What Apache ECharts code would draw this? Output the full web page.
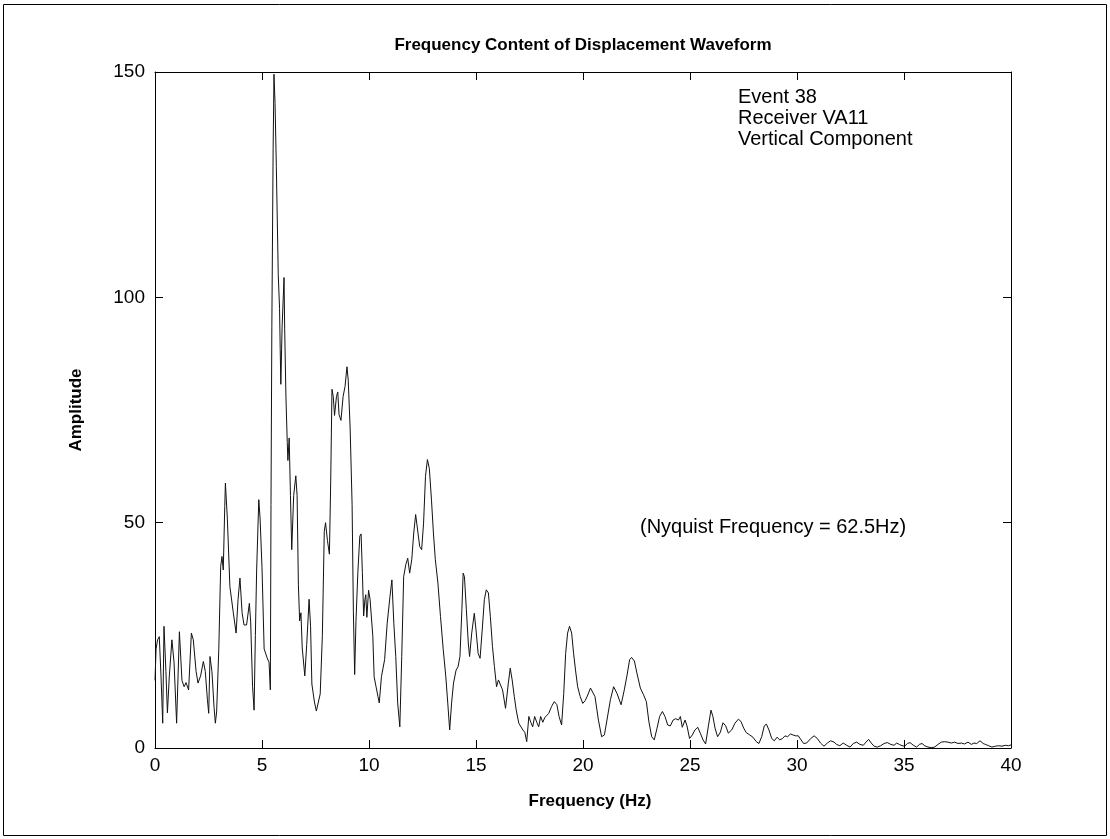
<!DOCTYPE html>
<html><head><meta charset="utf-8">
<script src="https://cdn.jsdelivr.net/npm/echarts@6/dist/echarts.min.js"></script>
<style>html,body{margin:0;padding:0;background:#fff}#c{width:1110px;height:839px}</style>
</head><body><div id="c"></div>
<script>
const freqHz = [0.00,0.05,0.12,0.20,0.28,0.36,0.42,0.51,0.58,0.67,0.79,0.89,1.01,1.14,1.26,1.36,1.45,1.57,1.70,1.79,1.92,2.01,2.13,2.26,2.35,2.45,2.51,2.57,2.66,2.76,2.82,2.88,2.98,3.07,3.13,3.19,3.26,3.29,3.38,3.50,3.66,3.79,3.88,3.97,4.07,4.16,4.28,4.41,4.47,4.56,4.63,4.69,4.75,4.85,4.91,5.00,5.10,5.24,5.33,5.39,5.42,5.46,5.52,5.56,5.61,5.67,5.76,5.82,5.85,5.88,5.94,6.03,6.06,6.12,6.18,6.21,6.27,6.33,6.39,6.48,6.58,6.64,6.70,6.76,6.82,6.88,7.00,7.09,7.20,7.27,7.33,7.45,7.54,7.63,7.72,7.82,7.91,7.97,8.06,8.15,8.21,8.27,8.33,8.39,8.48,8.54,8.60,8.69,8.79,8.88,8.97,9.03,9.12,9.21,9.27,9.33,9.39,9.48,9.57,9.63,9.69,9.75,9.81,9.85,9.90,9.98,10.05,10.18,10.24,10.33,10.42,10.48,10.58,10.73,10.85,10.98,11.07,11.16,11.25,11.34,11.44,11.53,11.62,11.72,11.81,11.90,12.00,12.09,12.18,12.27,12.37,12.46,12.55,12.64,12.73,12.82,12.92,13.01,13.10,13.22,13.34,13.47,13.59,13.68,13.77,13.86,13.95,14.07,14.16,14.25,14.34,14.40,14.46,14.55,14.64,14.70,14.80,14.92,15.00,15.10,15.19,15.29,15.39,15.48,15.58,15.67,15.77,15.86,15.96,16.05,16.14,16.24,16.38,16.51,16.60,16.69,16.79,16.88,17.00,17.09,17.19,17.28,17.37,17.47,17.56,17.65,17.74,17.84,17.93,18.02,18.12,18.21,18.30,18.40,18.53,18.66,18.78,18.88,19.00,19.10,19.19,19.28,19.37,19.47,19.56,19.65,19.75,19.87,19.99,20.10,20.20,20.35,20.44,20.56,20.72,20.87,21.00,21.12,21.28,21.43,21.59,21.78,21.93,22.06,22.18,22.27,22.40,22.52,22.68,22.83,22.96,23.08,23.21,23.33,23.46,23.58,23.71,23.83,23.96,24.08,24.21,24.33,24.46,24.55,24.64,24.77,24.86,24.98,25.11,25.23,25.36,25.48,25.61,25.73,25.86,25.98,26.07,26.17,26.29,26.42,26.54,26.67,26.79,26.95,27.10,27.26,27.38,27.51,27.63,27.79,27.94,28.10,28.22,28.35,28.47,28.57,28.69,28.82,28.94,29.07,29.19,29.32,29.44,29.56,29.69,29.81,29.94,30.06,30.19,30.31,30.45,30.64,30.80,30.95,31.10,31.26,31.42,31.57,31.73,31.85,32.00,32.16,32.32,32.48,32.63,32.79,32.94,33.10,33.22,33.35,33.47,33.60,33.75,33.91,34.07,34.22,34.38,34.53,34.66,34.78,34.91,35.03,35.16,35.28,35.44,35.59,35.72,35.84,35.97,36.12,36.28,36.43,36.59,36.74,36.90,37.06,37.21,37.37,37.52,37.68,37.83,37.99,38.15,38.27,38.40,38.55,38.70,38.80,38.96,39.11,39.27,39.42,39.58,39.73,39.89,40.00];
const amplitude = [15,22,24,24.7,16,5.5,27,17,7.8,16,24,19,5.5,25.8,15,13.6,14.5,12.9,25.5,24,17,14.4,16,19.2,17,10.7,7.7,20.3,17,9,5.5,8,21.8,40.3,42.5,39.5,53.6,58.8,51,35.8,30,25.5,32.9,37.7,30,27.3,27.3,32.1,28,13.6,8.4,25,39.5,55.1,51,40,22,20,19,12.9,54,93.5,133,149.5,143,129,105,97.5,88.7,80.7,93.5,104.4,93,77.7,67.8,63.8,68.8,56,44,56,60.4,56,36.2,28.2,30,22.2,16,23,33,27,14.2,10.2,8.2,8.5,12,24.9,48,50,46,43,59,79.6,78,73.8,78,79,74,72.7,78,80.2,84.6,81.6,70.8,54,30.2,16.3,28,39,47,47.5,39,29.3,33,34,29,35,33,24.7,15.8,13.6,11.4,10,15.8,19.6,27.7,33.6,37.3,27.7,20.3,10,4.7,20.3,38,40.7,42.1,38.8,41.9,47.7,51.8,51.5,44.7,44,49.9,60.3,64,62,55,47.7,41.8,36.6,29.2,21.8,15.8,10,4,10,14.4,17.3,18,20.3,30.7,38.8,38,30.7,23.3,20.3,25.5,29.9,26.2,21,19.9,26.2,32.9,35.1,34.4,29.2,22.5,18.1,13.6,15.1,15.2,12.9,8.8,14.4,17.7,15.1,11.4,8.4,5.5,5.7,4,3.5,1.4,7,5.7,4.7,7,5.7,4.7,7,5.7,6.7,7.2,7.7,9.2,10.3,9.6,7,5.1,12.1,21,25.5,27,25.5,21,17.3,13.6,11.4,9.9,10.5,11.5,13.3,13,11.4,6.2,2.5,2.9,6.2,10.7,13.6,12.1,9.6,12.9,16.2,19.6,20.1,19.3,16.6,13.3,11.8,10.3,5.8,2.5,1.8,4.4,7,8.1,7,5.1,4.9,6.2,6.5,6.2,7,4.6,6.2,4.9,2.1,2.9,4,4.6,3.3,1.8,0.9,4.9,8.4,7,4.4,2.5,3.5,5.6,4.9,3.3,4,5.5,6.4,5.9,4.4,3.4,2.9,2.4,1.4,1.0,2.5,4.9,5.3,4,2.1,1.6,2.4,1.8,2.1,2.7,2.5,3.1,2.9,2.7,2.7,1.8,1.0,1.1,2.1,2.7,2.1,1.1,0.4,1.1,1.6,1.3,0.8,0.5,1.1,0.6,0.2,1.0,1.3,0.8,0.6,1.3,1.9,1.1,0.4,0.2,0.5,1.0,1.2,0.8,0.6,1.1,0.8,0.5,0.4,1.0,1.2,0.6,0.2,0.8,1.0,0.5,0.2,0.1,0.2,0.8,1.3,1.4,1.3,1.1,1.3,1.0,1.1,0.9,1.3,0.8,1.1,1.0,1.6,1.0,0.8,0.5,0.2,0.4,0.5,0.4,0.6,0.5,0.7];
const titleText = 'Frequency Content of Displacement Waveform';
const xName = 'Frequency (Hz)';
const yName = 'Amplitude';
const infoLines = ['Event 38', 'Receiver VA11', 'Vertical Component'];
const nyquistText = '(Nyquist Frequency = 62.5Hz)';

const FF = '"Liberation Sans", Arial, Helvetica, sans-serif';
const chart = echarts.init(document.getElementById('c'), null, {renderer: 'canvas'});
const pairs = freqHz.map((f, i) => [f, amplitude[i]]);
const axisBase = {
  type: 'value',
  axisLine: {show: true, onZero: false, lineStyle: {color: '#000', width: 1}},
  axisTick: {show: true, inside: true, length: 8, lineStyle: {color: '#000', width: 1}},
  splitLine: {show: false},
  axisLabel: {color: '#000', fontSize: 19, fontFamily: FF}
};
chart.setOption({
  backgroundColor: '#fff',
  animation: false,
  grid: {left: 155, right: 99, top: 72, bottom: 91, containLabel: false},
  xAxis: [
    Object.assign({}, axisBase, {min: 0, max: 40, interval: 5, position: 'bottom',
      axisLabel: Object.assign({}, axisBase.axisLabel, {margin: 8}),
      name: xName, nameLocation: 'middle', nameGap: 45,
      nameTextStyle: {color: '#000', fontSize: 17, fontWeight: 'bold', fontFamily: FF, padding: [0, 0, 0, 14]}}),
    Object.assign({}, axisBase, {min: 0, max: 40, interval: 5, position: 'top', axisLabel: {show: false}})
  ],
  yAxis: [
    Object.assign({}, axisBase, {min: 0, max: 150, interval: 50, position: 'left',
      axisLabel: Object.assign({}, axisBase.axisLabel, {margin: 10}),
      name: yName, nameLocation: 'middle', nameGap: 70,
      nameTextStyle: {color: '#000', fontSize: 17, fontWeight: 'bold', fontFamily: FF}}),
    Object.assign({}, axisBase, {min: 0, max: 150, interval: 50, position: 'right', axisLabel: {show: false}})
  ],
  series: [{
    type: 'line', data: pairs, xAxisIndex: 0, yAxisIndex: 0,
    showSymbol: false, symbol: 'none', smooth: false,
    lineStyle: {color: '#111', width: 1}
  }],
  graphic: [
    {type: 'rect', shape: {x: 3.5, y: 4.5, width: 1103, height: 831}, style: {fill: null, stroke: '#000', lineWidth: 1}, silent: true},
    {type: 'text', x: 583, y: 45, style: {text: titleText, font: 'bold 17px ' + FF, fill: '#000', textAlign: 'center', textVerticalAlign: 'middle'}},
    {type: 'text', x: 738, y: 97, style: {text: infoLines[0], font: '20px ' + FF, fill: '#000', textAlign: 'left', textVerticalAlign: 'middle'}},
    {type: 'text', x: 738, y: 118, style: {text: infoLines[1], font: '20px ' + FF, fill: '#000', textAlign: 'left', textVerticalAlign: 'middle'}},
    {type: 'text', x: 738, y: 139, style: {text: infoLines[2], font: '20px ' + FF, fill: '#000', textAlign: 'left', textVerticalAlign: 'middle'}},
    {type: 'text', x: 640, y: 527, style: {text: nyquistText, font: '20px ' + FF, fill: '#000', textAlign: 'left', textVerticalAlign: 'middle'}}
  ]
});
</script></body></html>
